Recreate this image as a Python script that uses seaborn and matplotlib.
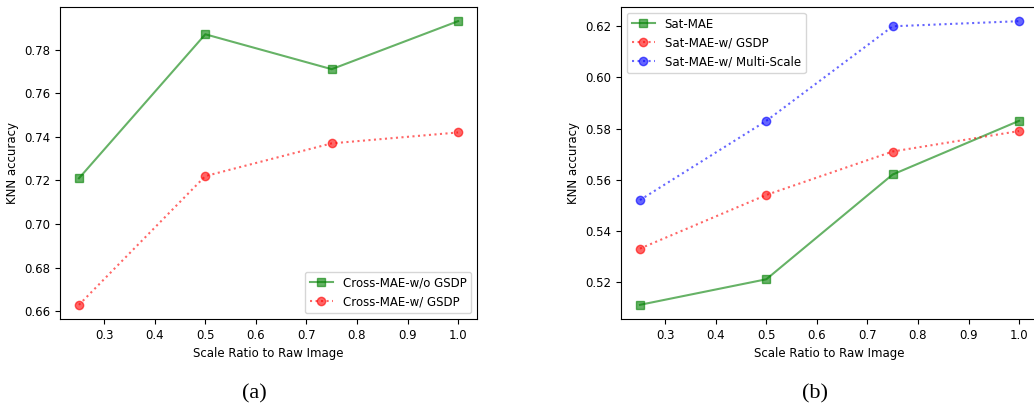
import matplotlib
matplotlib.use('AGG')
import matplotlib.pyplot as plt
import seaborn as sns

scales = [0.25, 0.5, 0.75, 1.0]

# (a) Cross-MAE
cross_wo_gsdp = [0.721, 0.787, 0.771, 0.793]
cross_w_gsdp = [0.663, 0.722, 0.737, 0.742]

# (b) Sat-MAE
sat_mae = [0.511, 0.521, 0.562, 0.583]
sat_w_gsdp = [0.533, 0.554, 0.571, 0.579]
sat_w_multiscale = [0.552, 0.583, 0.620, 0.622]

plt.rcParams['font.size'] = 8.5

fig = plt.figure(figsize=(10.34, 4.08), dpi=100)
W, H = 1034, 408
ax1 = fig.add_axes([60 / W, 1 - 319 / H, 417 / W, 312 / H])
ax2 = fig.add_axes([621 / W, 1 - 319 / H, 417 / W, 312 / H])


def draw(ax, y, color, marker, ls, label):
    sns.lineplot(x=scales, y=y, ax=ax, color=color, alpha=0.6,
                 marker=marker, markersize=6, markeredgewidth=1,
                 markeredgecolor=color, linestyle=ls, label=label)


draw(ax1, cross_wo_gsdp, 'g', 's', '-', 'Cross-MAE-w/o GSDP')
draw(ax1, cross_w_gsdp, 'r', 'o', ':', 'Cross-MAE-w/ GSDP')
ax1.legend(loc='lower right')

draw(ax2, sat_mae, 'g', 's', '-', 'Sat-MAE')
draw(ax2, sat_w_gsdp, 'r', 'o', ':', 'Sat-MAE-w/ GSDP')
draw(ax2, sat_w_multiscale, 'b', 'o', ':', 'Sat-MAE-w/ Multi-Scale')
ax2.legend(loc='upper left')

for ax in (ax1, ax2):
    ax.set_xlabel('Scale Ratio to Raw Image')
    ax.set_ylabel('KNN accuracy')

fig.text(254 / W, 1 - 394 / H, '(a)', ha='center', va='center',
         fontsize=16, family='Liberation Serif')
fig.text(815 / W, 1 - 394 / H, '(b)', ha='center', va='center',
         fontsize=16, family='Liberation Serif')

plt.savefig('out.png', dpi=100)
plt.close(fig)
